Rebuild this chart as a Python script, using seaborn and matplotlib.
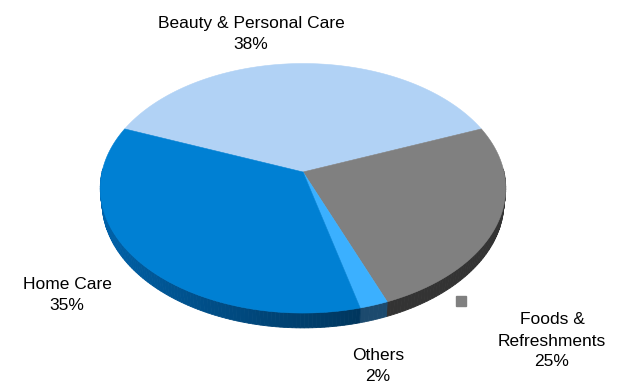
import numpy as np
import matplotlib
matplotlib.use("Agg")
import matplotlib.pyplot as plt
from matplotlib.patches import Polygon
import seaborn as sns

# Share of sales by segment (clockwise from the top)
categories = ["Beauty & Personal Care", "Foods & Refreshments", "Others", "Home Care"]
shares = [38, 25, 2, 35]
label_text = ["Beauty & Personal Care\n38%", "Foods &\nRefreshments\n25%", "Others\n2%", "Home Care\n35%"]

top_colors = ["#B1D2F5", "#808080", "#3BB0FF", "#0080D3"]
side_colors = ["#6F8FB0", "#555555", "#2F7BB8", "#005A9C"]

sns.set_theme(style="white")
plt.rcParams["font.family"] = ["Liberation Sans", "DejaVu Sans"]

W, H = 636, 387
fig = plt.figure(figsize=(W / 100, H / 100), dpi=100)
ax = fig.add_axes([0, 0, 1, 1])
ax.set_xlim(0, W)
ax.set_ylim(H, 0)
ax.axis("off")

# Camera for the tilted, perspective disc
elev = np.radians(37.6)
ce, se = np.cos(elev), np.sin(elev)
dist = 6.07
focal = 1220.0
cx, cy = 303.0, 172.0
thick = 0.09


def project(theta, yw=0.0, r=1.0):
    X = r * np.cos(theta)
    Z = r * np.sin(theta)
    yc = yw * ce + Z * se
    depth = dist + Z * ce - yw * se
    return cx + focal * X / depth, cy - focal * yc / depth


fracs = np.array(shares, dtype=float) / np.sum(shares)
start = np.pi / 2 + fracs[0] * np.pi  # first slice centred on the top
edges = start - np.concatenate([[0], np.cumsum(fracs)]) * 2 * np.pi

# Rim (front half only), shaded by direction
for i in range(len(shares)):
    a0, a1 = edges[i], edges[i + 1]
    ts = np.linspace(a0, a1, max(4, int(abs(a1 - a0) / np.radians(1.0))))
    base = np.array(matplotlib.colors.to_rgb(side_colors[i]))
    for t0, t1 in zip(ts[:-1], ts[1:]):
        tm = 0.5 * (t0 + t1)
        if np.sin(tm) > 0.02:
            continue
        shade = np.clip(0.7 + 0.4 * (-np.cos(tm)), 0.6, 1.1)
        col = np.clip(base * shade, 0, 1)
        xa, ya = project(t0)
        xb, yb = project(t1)
        xc, yc_ = project(t1, -thick)
        xd, yd = project(t0, -thick)
        ax.add_patch(Polygon([[xa, ya], [xb, yb], [xc, yc_], [xd, yd]],
                             closed=True, facecolor=col, edgecolor=col,
                             linewidth=0.6, zorder=1))

# Top faces
for i in range(len(shares)):
    ts = np.linspace(edges[i], edges[i + 1], 200)
    px, py = project(ts)
    verts = np.column_stack([np.concatenate([[cx], px]), np.concatenate([[cy], py])])
    ax.add_patch(Polygon(verts, closed=True, facecolor=top_colors[i],
                         edgecolor=top_colors[i], linewidth=0.4, zorder=2))

# Data labels
label_pos = {
    "Beauty & Personal Care": (251, 34),
    "Foods & Refreshments": (552, 341),
    "Others": (378, 366),
    "Home Care": (67, 295),
}
for name, txt in zip(categories, label_text):
    x, y = label_pos[name]
    ax.text(x, y, txt, ha="center", va="center", fontsize=12.5,
            color="#000000", linespacing=1.5, zorder=3)

# Legend key beside the Foods label
ax.plot([461], [301], marker="s", markersize=6.5, color=top_colors[1],
        linestyle="none", zorder=3)

fig.savefig("out.png", dpi=100, facecolor="white")
